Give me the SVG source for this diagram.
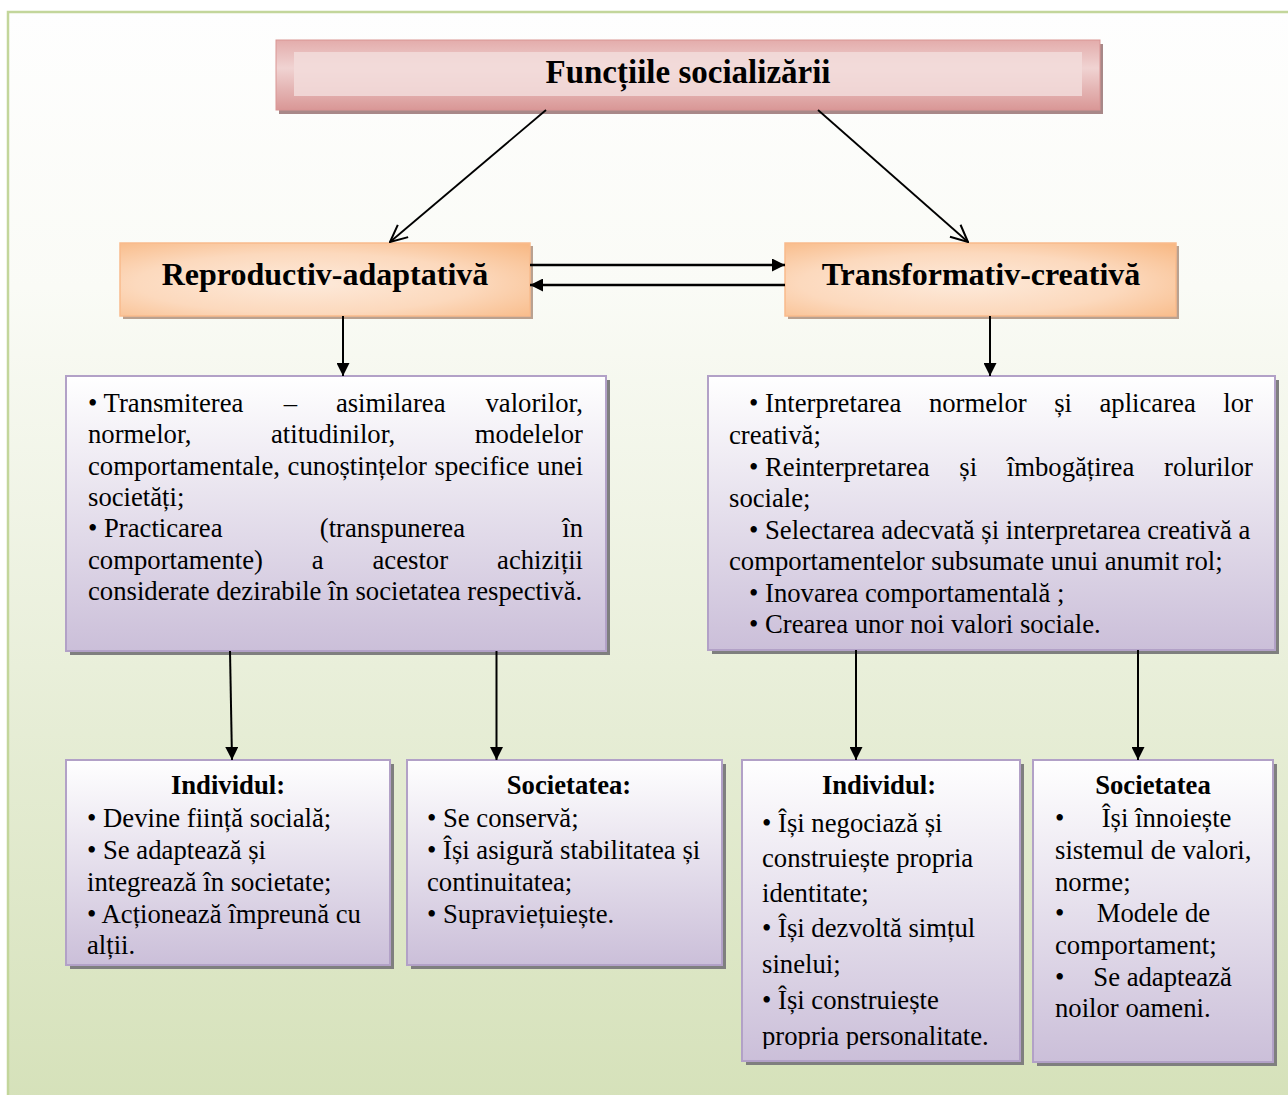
<svg xmlns="http://www.w3.org/2000/svg" width="1288" height="1095" viewBox="0 0 1288 1095">
<style>
.t{font-family:"Liberation Serif","Times New Roman",serif;font-size:26.7px;fill:#000}
.b{font-weight:bold}
.m{text-anchor:middle}
.e{text-anchor:end}
.pb{fill:url(#gPurple);stroke:#b2a1c7;stroke-width:2}
.sh{fill:#7f7f7f}
.ob{fill:url(#gOrange);stroke:#f9bb8c;stroke-width:1.5}
.osh{fill:#b9a190}
.ln{stroke:#000;fill:none}
</style>
<defs>
<linearGradient id="gBg" x1="0" y1="0" x2="0" y2="1">
<stop offset="0" stop-color="#fefefe"/>
<stop offset="0.25" stop-color="#fafbf6"/>
<stop offset="1" stop-color="#d5e1b9"/>
</linearGradient>
<linearGradient id="gPurple" x1="0" y1="0" x2="0" y2="1">
<stop offset="0" stop-color="#ffffff"/>
<stop offset="1" stop-color="#cbbfd9"/>
</linearGradient>
<radialGradient id="gOrange" cx="0.45" cy="0.55" r="0.75">
<stop offset="0" stop-color="#fdeadb"/>
<stop offset="0.55" stop-color="#fcd9bd"/>
<stop offset="1" stop-color="#f8b985"/>
</radialGradient>
<linearGradient id="gPink" x1="0" y1="0" x2="0" y2="1">
<stop offset="0" stop-color="#e3acab"/>
<stop offset="0.4" stop-color="#f0d3d2"/>
<stop offset="1" stop-color="#d99796"/>
</linearGradient>
<marker id="ah" viewBox="0 0 10 10" refX="10" refY="5" markerWidth="15" markerHeight="13" markerUnits="userSpaceOnUse" orient="auto">
<path d="M0,0 L10,5 L0,10 z" fill="#000"/>
</marker>
<marker id="oh" viewBox="0 0 20 20" refX="19" refY="10" markerWidth="20" markerHeight="20" markerUnits="userSpaceOnUse" orient="auto">
<path d="M2,2 L19,10 L2,18" fill="none" stroke="#000" stroke-width="2"/>
</marker>
<clipPath id="clipInd2"><rect x="742" y="760" width="278" height="289"/></clipPath>
</defs>

<rect x="0" y="0" width="1288" height="1095" fill="#ffffff"/>
<rect x="8" y="12" width="1300" height="1100" fill="url(#gBg)" stroke="#c3d69b" stroke-width="2.5"/>

<g id="title">
<rect x="279" y="44" width="824" height="70" fill="#a88888"/>
<rect x="276" y="40" width="824" height="70" fill="url(#gPink)" stroke="#d99594" stroke-width="1"/>
<rect x="294" y="52" width="788" height="44" fill="#f2dcdb" opacity="0.85"/>
<text class="t b m" x="688" y="83" style="font-size:33px">Funcțiile socializării</text>
</g>

<g id="reproductiv">
<rect class="osh" x="123" y="246" width="410" height="73"/>
<rect class="ob" x="120" y="243" width="410" height="73"/>
<text class="t b m" x="325" y="285" style="font-size:32px">Reproductiv-adaptativă</text>
</g>

<g id="transformativ">
<rect class="osh" x="788" y="246" width="391" height="73"/>
<rect class="ob" x="785" y="243" width="391" height="73"/>
<text class="t b m" x="981" y="285" style="font-size:32px">Transformativ-creativă</text>
</g>

<g id="repro-desc">
<rect class="sh" x="70" y="380" width="540" height="275"/>
<rect class="pb" x="66" y="376" width="540" height="275"/>
<text class="t" y="412"><tspan x="88">• Transmiterea</tspan><tspan x="283.7">–</tspan><tspan x="335.9">asimilarea</tspan><tspan x="583" text-anchor="end">valorilor,</tspan></text>
<text class="t" y="443"><tspan x="88">normelor,</tspan><tspan x="271">atitudinilor,</tspan><tspan x="583" text-anchor="end">modelelor</tspan></text>
<text class="t" x="88" y="475" word-spacing="1">comportamentale, cunoștințelor specifice unei</text>
<text class="t" x="88" y="506">societăți;</text>
<text class="t" y="537"><tspan x="88">• Practicarea</tspan><tspan x="319.8">(transpunerea</tspan><tspan x="583" text-anchor="end">în</tspan></text>
<text class="t" y="569"><tspan x="88">comportamente)</tspan><tspan x="311.8">a</tspan><tspan x="372.5">acestor</tspan><tspan x="583" text-anchor="end">achiziții</tspan></text>
<text class="t" x="88" y="600">considerate dezirabile în societatea respectivă.</text>
</g>

<g id="transf-desc">
<rect class="sh" x="712" y="380" width="567" height="274"/>
<rect class="pb" x="708" y="376" width="567" height="274"/>
<text class="t" y="412"><tspan x="749">• Interpretarea</tspan><tspan x="928.9">normelor</tspan><tspan x="1054.2">și</tspan><tspan x="1099.5">aplicarea</tspan><tspan x="1253" text-anchor="end">lor</tspan></text>
<text class="t" x="729" y="444">creativă;</text>
<text class="t" y="476"><tspan x="749">• Reinterpretarea</tspan><tspan x="959.3">și</tspan><tspan x="1006.8">îmbogățirea</tspan><tspan x="1253" text-anchor="end">rolurilor</tspan></text>
<text class="t" x="729" y="507">sociale;</text>
<text class="t" x="749" y="539">• Selectarea adecvată și interpretarea creativă a</text>
<text class="t" x="729" y="570">comportamentelor subsumate unui anumit rol;</text>
<text class="t" x="749" y="602">• Inovarea comportamentală ;</text>
<text class="t" x="749" y="633">• Crearea unor noi valori sociale.</text>
</g>

<g id="individ-1">
<rect class="sh" x="70" y="764" width="324" height="205"/>
<rect class="pb" x="66" y="760" width="324" height="205"/>
<text class="t b m" x="228" y="794">Individul:</text>
<text class="t" x="87" y="827">• Devine ființă socială;</text>
<text class="t" x="87" y="859">• Se adaptează și</text>
<text class="t" x="87" y="891">integrează în societate;</text>
<text class="t" x="87" y="923">• Acționează împreună cu</text>
<text class="t" x="87" y="954">alții.</text>
</g>

<g id="societ-1">
<rect class="sh" x="411" y="764" width="315" height="205"/>
<rect class="pb" x="407" y="760" width="315" height="205"/>
<text class="t b m" x="569" y="794">Societatea:</text>
<text class="t" x="427" y="827">• Se conservă;</text>
<text class="t" x="427" y="859">• Își asigură stabilitatea și</text>
<text class="t" x="427" y="891">continuitatea;</text>
<text class="t" x="427" y="923">• Supraviețuiește.</text>
</g>

<g id="individ-2">
<rect class="sh" x="746" y="764" width="278" height="301"/>
<rect class="pb" x="742" y="760" width="278" height="301"/>
<g clip-path="url(#clipInd2)">
<text class="t b m" x="879" y="794">Individul:</text>
<text class="t" x="762" y="832">• Își negociază și</text>
<text class="t" x="762" y="867">construiește propria</text>
<text class="t" x="762" y="902">identitate;</text>
<text class="t" x="762" y="937">• Își dezvoltă simțul</text>
<text class="t" x="762" y="973">sinelui;</text>
<text class="t" x="762" y="1009">• Își construiește</text>
<text class="t" x="762" y="1045">propria personalitate.</text>
</g>
</g>

<g id="societ-2">
<rect class="sh" x="1037" y="764" width="240" height="302"/>
<rect class="pb" x="1033" y="760" width="240" height="302"/>
<text class="t b m" x="1153" y="794">Societatea</text>
<text class="t" y="827"><tspan x="1055">•</tspan><tspan x="1101.7">Își înnoiește</tspan></text>
<text class="t" x="1055" y="859">sistemul de valori,</text>
<text class="t" x="1055" y="891">norme;</text>
<text class="t" y="922"><tspan x="1055">•</tspan><tspan x="1096.7">Modele de</tspan></text>
<text class="t" x="1055" y="954">comportament;</text>
<text class="t" y="986"><tspan x="1055">•</tspan><tspan x="1093.3">Se adaptează</tspan></text>
<text class="t" x="1055" y="1017">noilor oameni.</text>
</g>

<g id="connectors">
<line class="ln" x1="546" y1="110" x2="390" y2="242" stroke-width="1.8" marker-end="url(#oh)"/>
<line class="ln" x1="818" y1="110" x2="968" y2="242" stroke-width="1.8" marker-end="url(#oh)"/>
<line class="ln" x1="530" y1="265" x2="785" y2="265" stroke-width="2.5" marker-end="url(#ah)"/>
<line class="ln" x1="785" y1="285" x2="530" y2="285" stroke-width="2.5" marker-end="url(#ah)"/>
<line class="ln" x1="343" y1="316" x2="343" y2="376" stroke-width="2" marker-end="url(#ah)"/>
<line class="ln" x1="990" y1="316" x2="990" y2="376" stroke-width="2" marker-end="url(#ah)"/>
<line class="ln" x1="230" y1="651" x2="232" y2="760" stroke-width="2" marker-end="url(#ah)"/>
<line class="ln" x1="496.5" y1="651" x2="496.5" y2="760" stroke-width="2" marker-end="url(#ah)"/>
<line class="ln" x1="856" y1="650" x2="856" y2="760" stroke-width="2" marker-end="url(#ah)"/>
<line class="ln" x1="1138" y1="650" x2="1138" y2="760" stroke-width="2" marker-end="url(#ah)"/>
</g>
</svg>
